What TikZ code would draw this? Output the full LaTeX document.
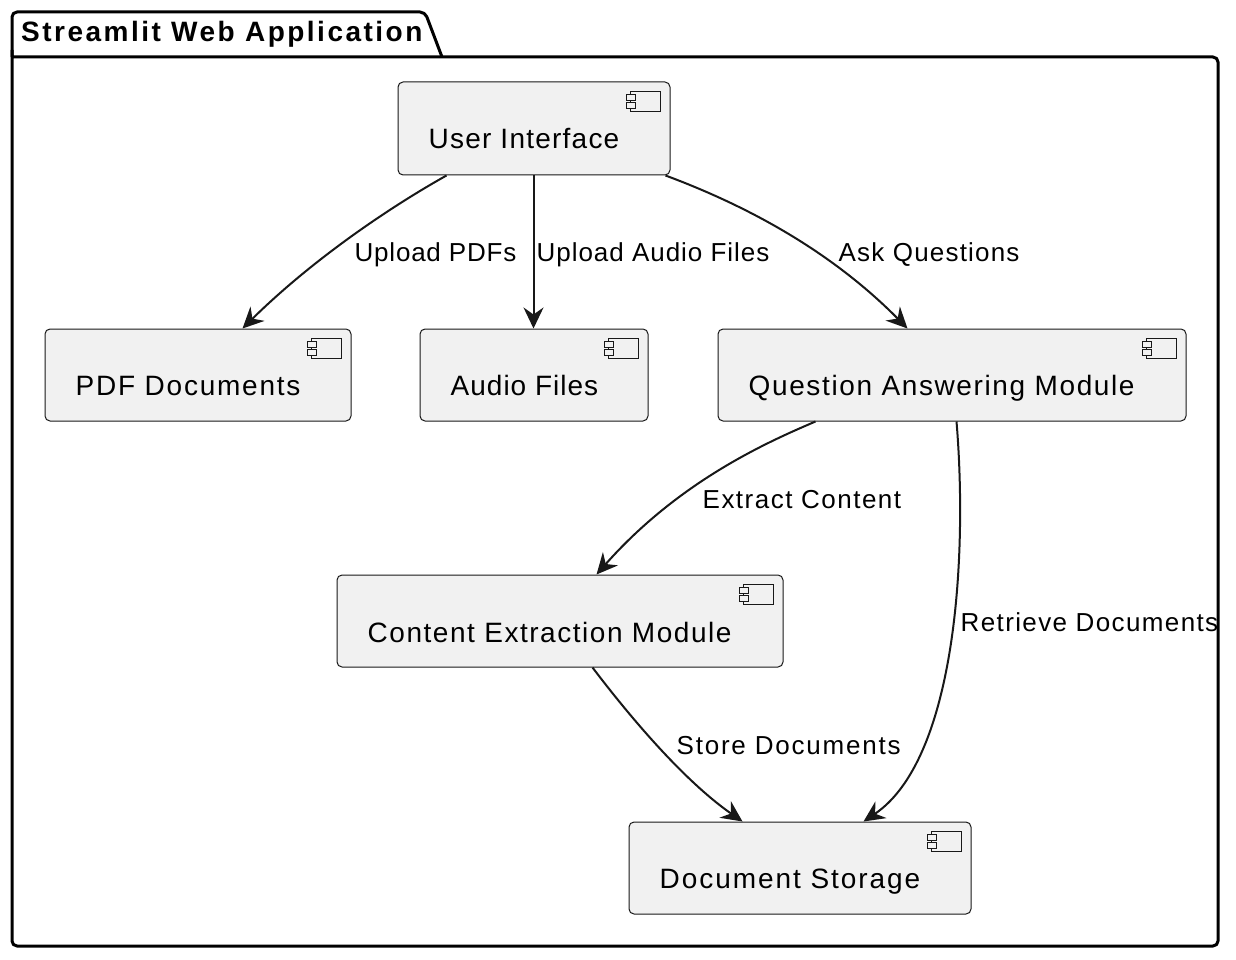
\documentclass[tikz,border=0pt]{standalone}
\usepackage{fontspec}
\setmainfont{Liberation Sans}
\newcommand{\trk}[2]{{\addfontfeature{LetterSpace=#1}#2}}
\usetikzlibrary{arrows.meta,calc}
\definecolor{compfill}{HTML}{F1F1F1}
\definecolor{ink}{HTML}{181818}
\tikzset{
  comp/.style={draw=ink,fill=compfill,line width=1pt,rounded corners=5pt,inner sep=0pt,anchor=north west},
  comptext/.style={anchor=base west,inner sep=0pt,text=black,font=\fontsize{28pt}{32pt}\selectfont},
  edgelabel/.style={anchor=base west,inner sep=0pt,text=black,font=\fontsize{26pt}{30pt}\selectfont},
  conn/.style={draw=ink,line width=2pt,-{Stealth[length=21pt,width=20pt,inset=7pt]}},
  pkg/.style={draw=black,line width=3pt,rounded corners=5pt,line join=round},
  icon/.style={draw=ink,line width=1pt,fill=compfill},
  pics/compicon/.style={code={
    \draw[icon] (-40,10) rectangle (-10,30);
    \draw[icon] (-44,13) rectangle (-35,19);
    \draw[icon] (-44,21) rectangle (-35,27);
  }}
}
\begin{document}
\begin{tikzpicture}[x=1pt,y=-1pt]
\useasboundingbox (0,0) rectangle (1236,960);
% package
\draw[pkg] (12,50) -- (12,946) -- (1218,946) -- (1218,57) -- (12,57);
\draw[pkg] (12,57) -- (12,12) -- (425,12) -- (442,57);
\node[anchor=base west,inner sep=0pt,font=\bfseries\fontsize{28pt}{32pt}\selectfont] (title) at (21,42) {\trk{8.9}{Streamlit Web Application}};
% components
\node[comp,minimum width=272pt,minimum height=93pt] (ui) at (397.5,81.5) {};
\node[comp,minimum width=306pt,minimum height=92pt] (pdf) at (44.5,328.5) {};
\node[comp,minimum width=228pt,minimum height=92pt] (audio) at (419.5,328.5) {};
\node[comp,minimum width=468pt,minimum height=92pt] (qa) at (717.5,328.5) {};
\node[comp,minimum width=446pt,minimum height=92pt] (ce) at (336.5,574.5) {};
\node[comp,minimum width=342pt,minimum height=92pt] (doc) at (628.5,821.5) {};
\foreach \n in {ui,pdf,audio,qa,ce,doc} \pic at (\n.north east) {compicon};
\node[comptext] (uit) at (428.5,148.7) {\trk{4.4}{User Interface}};
\node[comptext] (pdft) at (75.5,395) {\trk{6.3}{PDF Documents}};
\node[comptext] (audiot) at (450.5,395) {\trk{3.6}{Audio Files}};
\node[comptext] (qat) at (748.5,395) {\trk{5.8}{Question Answering Module}};
\node[comptext] (cet) at (367.5,642) {\trk{5.5}{Content Extraction Module}};
\node[comptext] (doct) at (659.5,888) {\trk{6.9}{Document Storage}};
% connectors
\draw[conn] ($(ui.south west)+(49,0)$) .. controls (385,210) and (310,262) .. ($(pdf.north west)+(198,0)$);
\draw[conn] ($(ui.south west)+(136,0)$) -- ($(audio.north west)+(114,0)$);
\draw[conn] ($(ui.south east)+(-5,0)$) .. controls (745,205) and (830,250) .. ($(qa.north west)+(190,0)$);
\draw[conn] ($(qa.south west)+(98,0)$) .. controls (770,441) and (680,480) .. ($(ce.north west)+(260,0)$);
\draw[conn] ($(qa.south west)+(239,0)$) .. controls (968,560) and (955,760) .. ($(doc.north west)+(235,0)$);
\draw[conn] ($(ce.south west)+(256,0)$) .. controls (640,730) and (690,785) .. ($(doc.north west)+(114,0)$);
% labels
\node[edgelabel] (l1) at (354.5,261) {\trk{3.0}{Upload PDFs}};
\node[edgelabel] (l2) at (536.5,261) {\trk{3.7}{Upload Audio Files}};
\node[edgelabel] (l3) at (838.5,261) {\trk{4.6}{Ask Questions}};
\node[edgelabel] (l4) at (702.5,508) {\trk{5.7}{Extract Content}};
\node[edgelabel] (l5) at (960.5,631) {\trk{5.3}{Retrieve Documents}};
\node[edgelabel] (l6) at (676.5,754) {\trk{6.8}{Store Documents}};
\end{tikzpicture}
\end{document}
